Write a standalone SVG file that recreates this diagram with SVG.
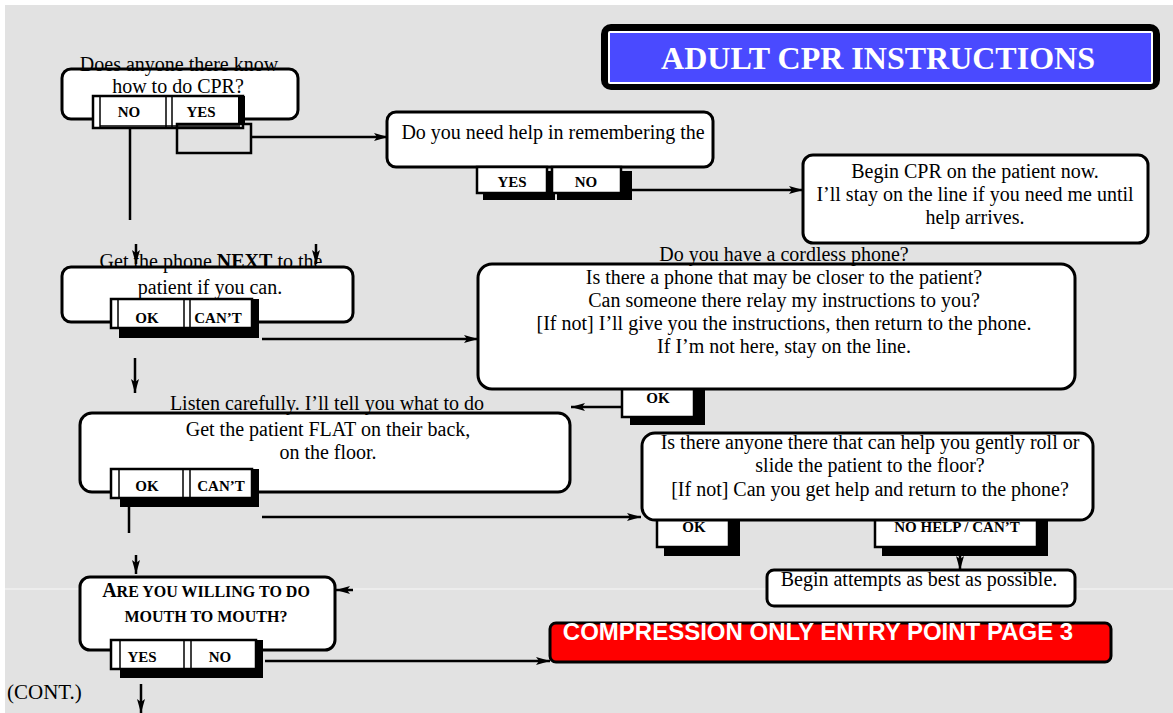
<svg xmlns="http://www.w3.org/2000/svg" width="1173" height="713" viewBox="0 0 1173 713">
<defs>
<marker id="ah" viewBox="0 0 14 8" refX="14" refY="4" markerWidth="14" markerHeight="8" markerUnits="userSpaceOnUse" orient="auto">
<path d="M0,0 L14,4 L0,8 L3,4 z" fill="#000"/>
</marker>
<style>
.box{fill:#fff;stroke:#000;stroke-width:3}
.t{font-family:"Liberation Serif","Times New Roman",serif;font-size:20px;fill:#000;text-anchor:middle}
.b{font-family:"Liberation Serif","Times New Roman",serif;font-size:15px;font-weight:bold;fill:#000;text-anchor:middle}
.btn{fill:#fff;stroke:#000;stroke-width:2.5}
.thin{stroke:#000;stroke-width:1.5;fill:none}
.sh{fill:#000}
.c{stroke:#000;stroke-width:2.5;fill:none}
.ca{stroke:#000;stroke-width:2.5;fill:none;marker-end:url(#ah)}
</style>
</defs>
<rect x="0" y="0" width="1173" height="713" fill="#fff"/>
<rect x="5" y="5" width="1168" height="708" fill="#e2e2e2"/>
<line x1="5" y1="589" x2="1173" y2="589" stroke="#f0f0f0" stroke-width="1.5"/>

<g id="title">
<rect x="601" y="24" width="559" height="66" rx="10" fill="#000"/>
<rect x="608" y="31" width="545" height="53" rx="2" fill="#fff"/>
<rect x="610" y="33" width="541" height="49" fill="#4a4aff"/>
<text x="878" y="69" font-family="Liberation Serif,Times New Roman,serif" font-size="32" font-weight="bold" fill="#fff" text-anchor="middle">ADULT CPR INSTRUCTIONS</text>
</g>

<g id="n1">
<rect class="box" x="62" y="69" width="236" height="50" rx="9"/>
<text class="t" x="179" y="71">Does anyone there know</text>
<text class="t" x="178" y="93">how to do CPR?</text>
<rect class="btn" x="93" y="96" width="150" height="32"/>
<line class="thin" x1="100" y1="96" x2="100" y2="128"/>
<line class="thin" x1="100" y1="126" x2="240" y2="126"/>
<line class="thin" x1="166" y1="96" x2="166" y2="128"/>
<line class="thin" x1="172" y1="96" x2="172" y2="128"/>
<rect class="sh" x="238" y="96" width="7" height="29"/>
<text class="b" x="129" y="117">NO</text>
<text class="b" x="201" y="117">YES</text>
<rect x="177" y="124" width="74" height="29" fill="none" stroke="#000" stroke-width="2.5"/>
</g>

<g id="n2">
<rect class="box" x="387" y="112" width="326" height="55" rx="9"/>
<text class="t" x="553" y="139">Do you need help in remembering the</text>
<rect class="sh" x="483" y="171" width="72" height="29"/>
<rect class="btn" x="477" y="167" width="70" height="26"/>
<text class="b" x="512" y="187">YES</text>
<rect class="sh" x="557" y="171" width="75" height="29"/>
<rect class="btn" x="552" y="167" width="69" height="26"/>
<text class="b" x="586" y="187">NO</text>
</g>

<g id="n3">
<rect class="box" x="803" y="155" width="345" height="88" rx="10"/>
<text class="t" x="975" y="178">Begin CPR on the patient now.</text>
<text class="t" x="975" y="201">I’ll stay on the line if you need me until</text>
<text class="t" x="975" y="224">help arrives.</text>
</g>

<g id="n4">
<rect class="box" x="62" y="267" width="291" height="55" rx="9"/>
<text class="t" x="211" y="268">Get the phone <tspan font-weight="bold">NEXT</tspan> to the</text>
<text class="t" x="210" y="294">patient if you can.</text>
<rect class="btn" x="111" y="299" width="141" height="29"/>
<line class="thin" x1="118" y1="299" x2="118" y2="328"/>
<line class="thin" x1="184" y1="299" x2="184" y2="328"/>
<line class="thin" x1="190" y1="299" x2="190" y2="328"/>
<text class="b" x="147" y="323">OK</text>
<text class="b" x="218" y="323">CAN’T</text>
<rect class="sh" x="119" y="327" width="140" height="11"/>
<rect class="sh" x="252" y="299" width="7" height="39"/>
</g>

<g id="n5">
<rect class="sh" x="630" y="390" width="75" height="35"/>
<rect class="btn" x="622" y="383" width="72" height="34"/>
<text class="b" x="658" y="403">OK</text>
<rect class="box" x="478" y="264" width="597" height="125" rx="14"/>
<text class="t" x="784" y="261">Do you have a cordless phone?</text>
<text class="t" x="784" y="284">Is there a phone that may be closer to the patient?</text>
<text class="t" x="784" y="307">Can someone there relay my instructions to you?</text>
<text class="t" x="784" y="330">[If not] I’ll give you the instructions, then return to the phone.</text>
<text class="t" x="784" y="353">If I’m not here, stay on the line.</text>
</g>

<g id="n6">
<rect class="box" x="80" y="413" width="490" height="79" rx="12"/>
<text class="t" x="327" y="410">Listen carefully.  I’ll tell you what to do</text>
<text class="t" x="328" y="436">Get the patient FLAT on their back,</text>
<text class="t" x="328" y="459">on the floor.</text>
<rect class="btn" x="111" y="469" width="141" height="29"/>
<line class="thin" x1="119" y1="469" x2="119" y2="498"/>
<line class="thin" x1="183" y1="469" x2="183" y2="498"/>
<line class="thin" x1="190" y1="469" x2="190" y2="498"/>
<text class="b" x="147" y="491">OK</text>
<text class="b" x="221" y="491">CAN’T</text>
<rect class="sh" x="120" y="497" width="139" height="10"/>
<rect class="sh" x="252" y="469" width="7" height="38"/>
</g>

<g id="n7">
<rect class="sh" x="664" y="512" width="76" height="44"/>
<rect class="btn" x="657" y="505" width="72" height="42"/>
<text class="b" x="694" y="532">OK</text>
<rect class="sh" x="882" y="512" width="166" height="44"/>
<rect class="btn" x="875" y="505" width="162" height="42"/>
<text class="b" x="957" y="532">NO HELP / CAN’T</text>
<rect class="box" x="642" y="433" width="451" height="87" rx="13"/>
<text class="t" x="870" y="449">Is there anyone there that can help you gently roll or</text>
<text class="t" x="870" y="472">slide the patient to the floor?</text>
<text class="t" x="870" y="496">[If not] Can you get help and return to the phone?</text>
</g>

<g id="n8">
<rect class="box" x="767" y="570" width="308" height="36" rx="7"/>
<text class="t" x="919" y="586">Begin attempts as best as possible.</text>
</g>

<g id="n9">
<rect class="box" x="80" y="577" width="255" height="73" rx="10"/>
<text x="206" y="597" font-family="Liberation Serif,Times New Roman,serif" font-weight="bold" font-size="16" text-anchor="middle"><tspan font-size="20">A</tspan>RE YOU WILLING TO DO</text>
<text x="206" y="622" font-family="Liberation Serif,Times New Roman,serif" font-weight="bold" font-size="16" text-anchor="middle">MOUTH TO MOUTH?</text>
<rect class="btn" x="111" y="640" width="145" height="29"/>
<line class="thin" x1="120" y1="640" x2="120" y2="669"/>
<line class="thin" x1="184" y1="640" x2="184" y2="669"/>
<line class="thin" x1="191" y1="640" x2="191" y2="669"/>
<text class="b" x="142" y="662">YES</text>
<text class="b" x="220" y="662">NO</text>
<rect class="sh" x="120" y="668" width="143" height="10"/>
<rect class="sh" x="255" y="640" width="8" height="38"/>
</g>

<g id="n10">
<rect x="550" y="623" width="561" height="39" rx="6" fill="#ff0000" stroke="#000" stroke-width="3"/>
<text x="818" y="640" font-family="Liberation Sans,Arial,sans-serif" font-size="24" font-weight="bold" fill="#fff" text-anchor="middle">COMPRESSION ONLY ENTRY POINT PAGE 3</text>
</g>

<g id="cont">
<text x="7" y="699" font-family="Liberation Serif,Times New Roman,serif" font-size="21" fill="#000">(CONT.)</text>
</g>

<g id="connectors">
<line class="ca" x1="251" y1="137" x2="388" y2="137"/>
<line class="ca" x1="632" y1="190" x2="803" y2="190"/>
<line class="c" x1="130" y1="129" x2="130" y2="220"/>
<line class="ca" x1="136" y1="244" x2="136" y2="264"/>
<line class="ca" x1="316" y1="244" x2="316" y2="264"/>
<line class="ca" x1="262" y1="339" x2="478" y2="339"/>
<line class="ca" x1="135" y1="358" x2="135" y2="393"/>
<line class="ca" x1="622" y1="407" x2="571" y2="407"/>
<line class="ca" x1="262" y1="517" x2="641" y2="517"/>
<line class="c" x1="129" y1="507" x2="129" y2="533"/>
<line class="ca" x1="136" y1="555" x2="136" y2="574"/>
<line class="ca" x1="960" y1="556" x2="960" y2="570"/>
<line class="ca" x1="353" y1="590" x2="336" y2="590"/>
<line class="ca" x1="265" y1="661" x2="550" y2="661"/>
<line class="ca" x1="141" y1="684" x2="141" y2="713"/>
</g>
</svg>
